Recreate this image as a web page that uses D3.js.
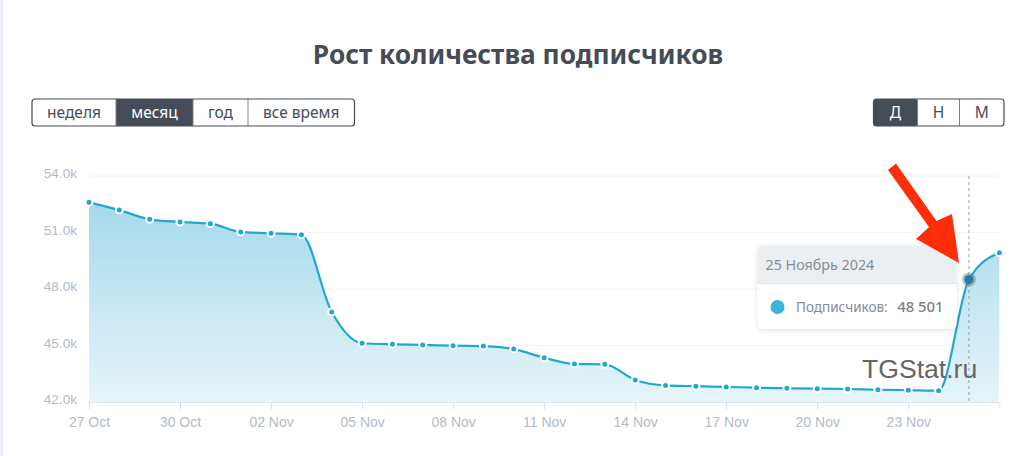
<!DOCTYPE html>
<html lang="ru">

<head>
  <meta charset="UTF-8">
  <title>Рост количества подписчиков</title>
  <style>
    html, body { margin: 0; padding: 0; background: #fff; overflow: hidden; }
    svg { display: block; font-family: "Noto Sans", sans-serif; }
  </style>
</head>

<body>
  <div id="chart"></div>

  <script src="https://d3js.org/d3.v7.min.js"></script>
  <script>
    // Data
    var days = ["27 Oct", "28 Oct", "29 Oct", "30 Oct", "31 Oct", "01 Nov", "02 Nov", "03 Nov", "04 Nov", "05 Nov",
      "06 Nov", "07 Nov", "08 Nov", "09 Nov", "10 Nov", "11 Nov", "12 Nov", "13 Nov", "14 Nov", "15 Nov",
      "16 Nov", "17 Nov", "18 Nov", "19 Nov", "20 Nov", "21 Nov", "22 Nov", "23 Nov", "24 Nov", "25 Nov", "26 Nov"];
    var subscribers = [52600, 52190, 51700, 51560, 51470, 51030, 50960, 50880, 46780, 45120,
      45060, 45030, 44990, 44970, 44810, 44350, 44020, 44000, 43170, 42880,
      42840, 42800, 42760, 42730, 42710, 42690, 42650, 42630, 42600, 48501, 49930];
    var xTicks = ["27 Oct", "30 Oct", "02 Nov", "05 Nov", "08 Nov", "11 Nov", "14 Nov", "17 Nov", "20 Nov", "23 Nov"];
    var yTicks = [42000, 45000, 48000, 51000, 54000];
    var rangeButtons = ["неделя", "месяц", "год", "все время"];
    var rangeEdges = [32, 116, 193, 248, 354.5];
    var unitButtons = ["Д", "Н", "М"];
    var unitEdges = [873.5, 917.5, 959.5, 1004];
    var activeDay = "25 Nov";

    var width = 1024, height = 456;
    var dark = "#454c57", lineColor = "#1FA8D2", axisText = "#b4bbc6";

    var svg = d3.select("#chart").append("svg").attr("width", width).attr("height", height);

    // thin border on the left of the page
    svg.append("rect").attr("width", 3).attr("height", height).attr("fill", "#eeedf6");

    svg.append("text").attr("x", 518).attr("y", 64).attr("text-anchor", "middle")
      .attr("font-size", 26.3).attr("font-weight", 700).attr("fill", dark)
      .text("Рост количества подписчиков");

    // button groups
    function buttons(labels, edges, activeIndex) {
      var top = 99, h = 27;
      var g = svg.append("g");
      g.append("rect").attr("x", edges[0]).attr("y", top).attr("width", edges[edges.length - 1] - edges[0])
        .attr("height", h).attr("rx", 3).attr("fill", "#fff");
      labels.forEach(function (label, i) {
        if (i === activeIndex) {
          g.append("rect").attr("x", edges[i]).attr("y", top).attr("width", edges[i + 1] - edges[i])
            .attr("height", h).attr("rx", i === 0 ? 3 : 0).attr("fill", dark);
        }
        if (i > 0) {
          g.append("line").attr("x1", edges[i]).attr("x2", edges[i]).attr("y1", top).attr("y2", top + h)
            .attr("stroke", "#7d828c").attr("stroke-width", 1);
        }
        g.append("text").attr("x", (edges[i] + edges[i + 1]) / 2).attr("y", top + 18.5)
          .attr("text-anchor", "middle").attr("font-size", 15.5)
          .attr("fill", i === activeIndex ? "#fff" : dark).text(label);
      });
      g.append("rect").attr("x", edges[0]).attr("y", top).attr("width", edges[edges.length - 1] - edges[0])
        .attr("height", h).attr("rx", 3).attr("fill", "none").attr("stroke", dark).attr("stroke-width", 1.2);
    }
    buttons(rangeButtons, rangeEdges, 1);
    buttons(unitButtons, unitEdges, 0);

    // scales
    var x = d3.scalePoint().domain(days).range([89, 999.3]);
    var y = d3.scaleLinear().domain([42000, 54000]).range([402, 176]);

    var defs = svg.append("defs");
    var grad = defs.append("linearGradient").attr("id", "areaFill")
      .attr("gradientUnits", "userSpaceOnUse").attr("x1", 0).attr("x2", 0)
      .attr("y1", y(52600)).attr("y2", y(42000));
    grad.append("stop").attr("offset", 0).attr("stop-color", "#A6D9EC");
    grad.append("stop").attr("offset", 1).attr("stop-color", "#E6F5FA");

    // horizontal grid
    svg.append("g").selectAll("line").data(yTicks.slice(1)).join("line")
      .attr("x1", x.range()[0]).attr("x2", x.range()[1])
      .attr("y1", function (d) { return y(d); }).attr("y2", function (d) { return y(d); })
      .attr("stroke", "#f3f4f6");

    var area = d3.area()
      .x(function (d, i) { return x(days[i]); })
      .y0(y(42000))
      .y1(function (d) { return y(d); })
      .curve(d3.curveMonotoneX);
    var line = d3.line()
      .x(function (d, i) { return x(days[i]); })
      .y(function (d) { return y(d); })
      .curve(d3.curveMonotoneX);

    svg.append("path").datum(subscribers).attr("d", area).attr("fill", "url(#areaFill)");

    // axes
    var xAxis = d3.axisBottom(x).tickValues(xTicks).tickSize(7).tickPadding(8);
    var gx = svg.append("g").attr("transform", "translate(0," + y(42000) + ")").call(xAxis);
    gx.select(".domain").attr("stroke", "#e2e3e6");
    gx.selectAll(".tick line").attr("stroke", "#dcdee2");
    gx.selectAll("text").attr("fill", axisText).attr("font-size", 14);

    var yAxis = d3.axisLeft(y).tickValues(yTicks).tickSize(0).tickPadding(12)
      .tickFormat(function (d) { return (d / 1000).toFixed(1) + "k"; });
    var gy = svg.append("g").attr("transform", "translate(89,0)").call(yAxis);
    gy.select(".domain").remove();
    gy.selectAll("text").attr("fill", axisText).attr("font-size", 13.6).attr("dy", "0.12em");

    // crosshair on the active day
    var activeIdx = days.indexOf(activeDay);
    var ax = x(activeDay), ay = y(subscribers[activeIdx]);
    svg.append("line").attr("x1", ax).attr("x2", ax).attr("y1", y(54000)).attr("y2", y(42000))
      .attr("stroke", "#9a9ea5").attr("stroke-dasharray", "3 3");

    svg.append("path").datum(subscribers).attr("d", line).attr("fill", "none")
      .attr("stroke", lineColor).attr("stroke-width", 2.2);

    // markers, active one is drawn separately
    svg.append("g").selectAll("circle")
      .data(subscribers.filter(function (d, i) { return i !== activeIdx; })).join("circle")
      .attr("cx", function (d) { return x(days[subscribers.indexOf(d)]); })
      .attr("cy", function (d) { return y(d); })
      .attr("r", 3.5).attr("fill", lineColor).attr("stroke", "#fff").attr("stroke-width", 2);

    svg.append("circle").attr("cx", ax).attr("cy", ay).attr("r", 7).attr("fill", "#6f7478").attr("opacity", 0.45);
    svg.append("circle").attr("cx", ax).attr("cy", ay).attr("r", 4.6).attr("fill", "#1c7fa3");

    // tooltip
    var shadow = defs.append("filter").attr("id", "tipShadow").attr("x", "-10%").attr("y", "-10%")
      .attr("width", "120%").attr("height", "125%");
    shadow.append("feDropShadow").attr("dx", 0).attr("dy", 1).attr("stdDeviation", 2)
      .attr("flood-color", "#000").attr("flood-opacity", 0.14);

    var tip = svg.append("g").attr("transform", "translate(757.5,246)");
    tip.append("rect").attr("width", 199).attr("height", 83).attr("rx", 5).attr("fill", "#fff")
      .attr("filter", "url(#tipShadow)");
    tip.append("path").attr("d", "M0,37V5a5,5 0 0 1 5,-5H194a5,5 0 0 1 5,5V37Z").attr("fill", "#eceff1");
    tip.append("line").attr("x1", 0).attr("x2", 199).attr("y1", 37.5).attr("y2", 37.5).attr("stroke", "#e2e5e8");
    tip.append("text").attr("x", 8).attr("y", 24).attr("font-size", 14.3).attr("fill", "#858c95")
      .text("25 Ноябрь 2024");
    tip.append("circle").attr("cx", 20).attr("cy", 61).attr("r", 7).attr("fill", "#3DB4D8");
    tip.append("text").attr("x", 38.5).attr("y", 65.5).attr("font-size", 13.5).attr("fill", "#858c95")
      .text("Подписчиков:");
    tip.append("text").attr("x", 186).attr("y", 65.5).attr("text-anchor", "end").attr("font-size", 14.8)
      .attr("font-weight", 500).attr("fill", "#7a818a").text("48 501");

    // watermark
    svg.append("text").attr("x", 862).attr("y", 378).attr("font-family", "'Liberation Sans', sans-serif")
      .attr("font-size", 26.6).attr("fill", "#666").text("TGStat.ru");

    // red arrow pasted over the chart
    svg.append("path").attr("d", "M888,170 L896,163.5 L936.5,221 L952,214 L959,263 L916,239 L929,227 Z")
      .attr("fill", "#FF2D0A");
  </script>
</body>

</html>
